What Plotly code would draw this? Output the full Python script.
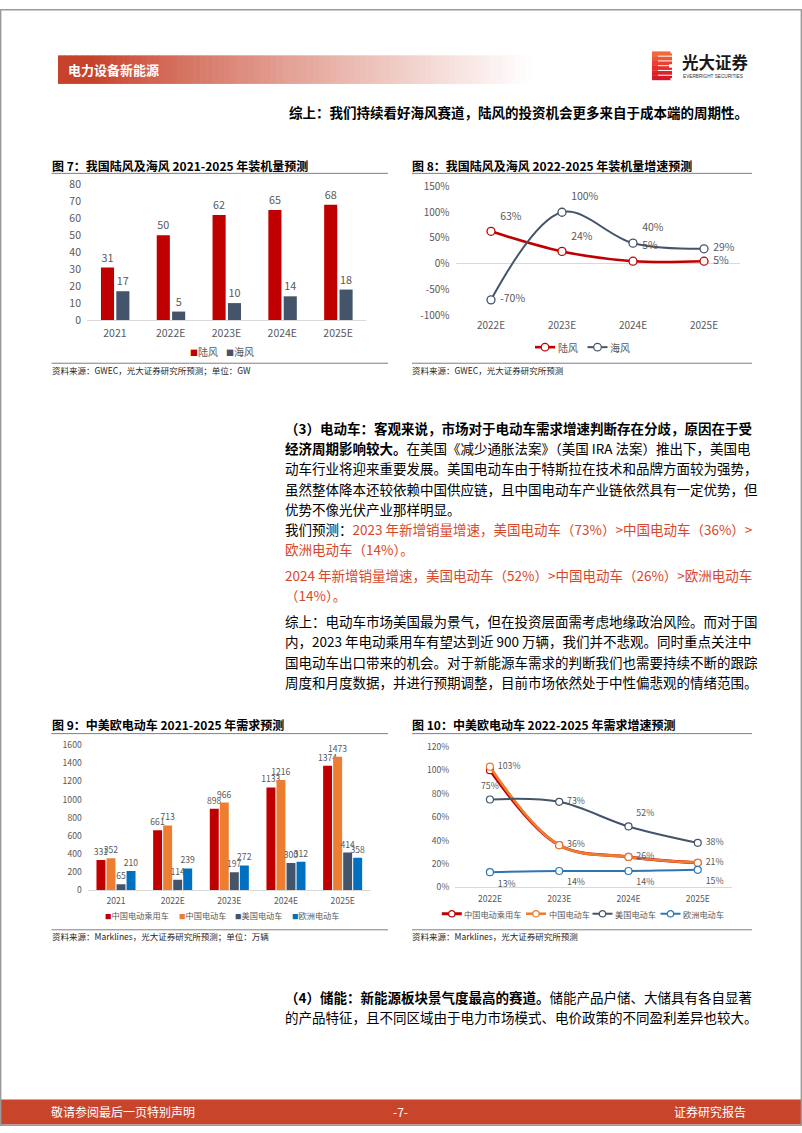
import plotly.graph_objects as go

W, H = 802, 1133
FONT = "Noto Sans CJK SC"
TICK = "#595959"
RED = "#C00000"
NAVY = "#44546A"
ORANGE = "#ED7D31"
BLUE = "#0070C0"
TEXT_RED = "#D9472B"
BRAND = "#C8452B"

# ---------------- data ----------------
wind_series = ["陆风", "海风"]
wind_years = ["2021", "2022E", "2023E", "2024E", "2025E"]
onshore_gw = [31, 50, 62, 65, 68]
offshore_gw = [17, 5, 10, 14, 18]

wind_growth_years = ["2022E", "2023E", "2024E", "2025E"]
onshore_growth = [63, 24, 5, 5]
offshore_growth = [-70, 100, 40, 29]
growth_ticks = [-100, -50, 0, 50, 100, 150]

ev_series = ["中国电动乘用车", "中国电动车", "美国电动车", "欧洲电动车"]
ev_years = ["2021", "2022E", "2023E", "2024E", "2025E"]
cn_passenger_ev = [331, 661, 898, 1133, 1374]
cn_ev = [352, 713, 966, 1216, 1473]
us_ev = [65, 114, 197, 300, 414]
eu_ev = [210, 239, 272, 312, 358]

ev_growth_years = ["2022E", "2023E", "2024E", "2025E"]
cn_passenger_growth = [100, 36, 26, 21]
cn_ev_growth = [103, 36, 26, 21]
us_ev_growth = [75, 73, 52, 38]
eu_ev_growth = [13, 14, 14, 15]


def X(p):
    return p / W


def Y(p):
    return 1 - p / H


fig = go.Figure()

# ---------- Chart 7: grouped bars ----------
for vals, name, color, off in [(onshore_gw, wind_series[0], RED, -0.25),
                               (offshore_gw, wind_series[1], NAVY, 0.025)]:
    fig.add_trace(go.Bar(
        x=wind_years, y=vals, name=name, width=0.235, offset=off,
        marker=dict(color=color, line=dict(width=0)),
        text=[str(v) for v in vals], textposition="outside", constraintext="none",
        textfont=dict(family=FONT, size=10.8, color=TICK), cliponaxis=False,
        showlegend=False, hoverinfo="skip", xaxis="x", yaxis="y"))

# ---------- Chart 8: smoothed lines ----------
line_specs8 = [
    (onshore_growth, wind_series[0], RED, 2.6,
     ["top right", "top right", "top right", "middle right"]),
    (offshore_growth, wind_series[1], NAVY, 2.0,
     ["middle right", "top right", "top right", "middle right"]),
]
for vals, name, color, lw, pos in line_specs8:
    fig.add_trace(go.Scatter(
        x=wind_growth_years, y=vals, name=name, mode="lines+markers",
        line=dict(color=color, width=lw, shape="spline", smoothing=1),
        marker=dict(symbol="circle", size=8, color="white", line=dict(color=color, width=1.3)),
        cliponaxis=False, hoverinfo="skip", showlegend=False, xaxis="x2", yaxis="y2"))
for vals, name, color, lw, pos in line_specs8:
    fig.add_trace(go.Scatter(
        x=wind_growth_years, y=vals, mode="markers+text", text=[f"{v}%" for v in vals],
        marker=dict(size=13, color="rgba(0,0,0,0)"),
        textposition=pos, textfont=dict(family=FONT, size=10.5, color=TICK),
        cliponaxis=False, showlegend=False, hoverinfo="skip", xaxis="x2", yaxis="y2"))

# ---------- Chart 9: grouped bars ----------
ev_bar_data = [cn_passenger_ev, cn_ev, us_ev, eu_ev]
ev_colors = [RED, ORANGE, NAVY, BLUE]
for i, (vals, name, color) in enumerate(zip(ev_bar_data, ev_series, ev_colors)):
    fig.add_trace(go.Bar(
        x=ev_years, y=vals, name=name, width=0.158, offset=-0.345 + i * 0.177,
        marker=dict(color=color, line=dict(width=0)),
        text=[str(v) for v in vals], textposition="outside", constraintext="none",
        textfont=dict(family=FONT, size=8.6, color=TICK), cliponaxis=False,
        showlegend=False, hoverinfo="skip", xaxis="x3", yaxis="y3"))

# ---------- Chart 10: smoothed lines ----------
ev_growth_data = [cn_passenger_growth, cn_ev_growth, us_ev_growth, eu_ev_growth]
ev_line_colors = [RED, ORANGE, NAVY, "#2E75B6"]
ev_line_widths = [3.0, 2.6, 2.0, 2.0]
ev_label_pos = [None,
                ["middle right"] * 4,
                ["top center", "middle right", "top right", "middle right"],
                ["bottom right"] * 4]
for vals, name, color, lw in zip(ev_growth_data, ev_series, ev_line_colors, ev_line_widths):
    fig.add_trace(go.Scatter(
        x=ev_growth_years, y=vals, name=name, mode="lines+markers",
        line=dict(color=color, width=lw, shape="spline", smoothing=1),
        marker=dict(symbol="circle", size=7, color="white", line=dict(color=color, width=1.2)),
        cliponaxis=False, hoverinfo="skip", showlegend=False, xaxis="x4", yaxis="y4"))
for vals, pos in zip(ev_growth_data, ev_label_pos):
    if pos is None:
        continue
    fig.add_trace(go.Scatter(
        x=ev_growth_years, y=vals, mode="markers+text", text=[f"{v}%" for v in vals],
        marker=dict(size=11, color="rgba(0,0,0,0)"),
        textposition=pos, textfont=dict(family=FONT, size=8.8, color=TICK),
        cliponaxis=False, showlegend=False, hoverinfo="skip", xaxis="x4", yaxis="y4"))


# ---------- axes ----------
def cat_axis(px_range, anchor, n, size, line=False):
    return dict(domain=[X(px_range[0]), X(px_range[1])], anchor=anchor, type="category",
                range=[-0.5, n - 0.5], showgrid=False, zeroline=False, ticks="",
                tickfont=dict(family=FONT, size=size, color=TICK),
                showline=line, linecolor="#D9D9D9", linewidth=1,
                ticklabelstandoff=3, fixedrange=True)


def val_axis(px_top, px_bottom, anchor, rng, dtick, size, suffix="", zeroline=False,
             tickvals=None, ticktext=None):
    d = dict(domain=[Y(px_bottom), Y(px_top)], anchor=anchor, range=rng, dtick=dtick,
             showgrid=False, ticks="", showline=False, ticksuffix=suffix,
             zeroline=zeroline, zerolinecolor="#D9D9D9", zerolinewidth=1,
             tickfont=dict(family=FONT, size=size, color=TICK),
             ticklabelstandoff=5, fixedrange=True)
    if tickvals is not None:
        d.update(tickmode="array", tickvals=tickvals, ticktext=ticktext)
    return d


# ---------- decorations ----------
shapes = []
annotations = []


def rect(x0, y0, x1, y1, fill, line_color=None, lw=0, layer="below"):
    shapes.append(dict(type="rect", xref="paper", yref="paper", x0=X(x0), x1=X(x1),
                       y0=Y(y1), y1=Y(y0), fillcolor=fill, layer=layer,
                       line=dict(width=lw, color=line_color or fill)))


def hline(x0, x1, y, color="#7F7F7F", width=1):
    shapes.append(dict(type="line", xref="paper", yref="paper", x0=X(x0), x1=X(x1),
                       y0=Y(y), y1=Y(y), line=dict(color=color, width=width), layer="below"))


def note(text, x, y, size, color="#000000", anchor="left", family=FONT):
    annotations.append(dict(text=text, x=X(x), y=Y(y), xref="paper", yref="paper",
                            xanchor=anchor, yanchor="middle", showarrow=False, borderpad=0,
                            font=dict(family=family, size=size, color=color)))


def line_legend_item(name, color, lw, x, y, size, r=3.5, seg=20):
    hline(x, x + seg, y, color, lw)
    cx = x + seg / 2
    shapes.append(dict(type="circle", xref="paper", yref="paper",
                       x0=X(cx - r), x1=X(cx + r), y0=Y(y + r), y1=Y(y - r),
                       fillcolor="white", line=dict(color=color, width=1.2), layer="below"))
    note(name, x + seg + 1.5, y, size, TICK)


# header gradient band
n_strips = 80
gx0, gx1 = 58, 532
c0 = (199, 66, 42)
for i in range(n_strips):
    xa = gx0 + (gx1 - gx0) * i / n_strips
    xb = gx0 + (gx1 - gx0) * (i + 1) / n_strips + 0.6
    xm = (xa + xb) / 2
    f = max(0.0, min(1.0, (xm - 95) / (gx1 - 95))) ** 0.85
    col = tuple(round(c * (1 - f) + 255 * f) for c in c0)
    rect(xa, 47, xb, 76, "rgb(%d,%d,%d)" % col)
note("<b>电力设备新能源</b>", 67, 61.5, 13, "white")

# logo icon
logo_cols = ["#F26A3A", "#EE5636", "#E94232", "#E3302E", "#DC222B", "#D41A28"]
ly0, ly1 = 43, 72
step = (ly1 - ly0) / len(logo_cols)
for i, c in enumerate(logo_cols):
    rect(652, ly0 + i * step, 672, ly0 + (i + 1) * step + 0.2, c)
for i in range(1, len(logo_cols)):
    rect(658, ly0 + i * step - 0.5, 672.5, ly0 + i * step + 0.5, "white")
rect(669, 56, 672.5, 59.5, "white")
rect(670.5, 42.5, 672.5, 45, "white")
rect(670.5, 70, 672.5, 72.5, "white")
note("<b>光大证券</b>", 680.5, 54, 16.5, "#1A1A1A")
note("EVERBRIGHT SECURITIES", 681.5, 68.5, 4.7, "#333333", family="Liberation Sans")

# intro line
note("<b>综上：我们持续看好海风赛道，陆风的投资机会更多来自于成本端的周期性。</b>", 288, 104, 13.5)

# chart titles, rules and sources
note("<b>图 7：我国陆风及海风 2021-2025 年装机量预测</b>", 50.5, 158.3, 12)
note("<b>图 8：我国陆风及海风 2022-2025 年装机量增速预测</b>", 411, 158.3, 12)
note("<b>图 9：中美欧电动车 2021-2025 年需求预测</b>", 50.5, 726, 12)
note("<b>图 10：中美欧电动车 2022-2025 年需求增速预测</b>", 411, 726, 12)
for (xa, xb) in [(51.5, 388), (412, 752)]:
    hline(xa, xb, 166.7)
    hline(xa, xb, 359.3)
    hline(xa, xb, 735)
    hline(xa, xb, 934)
note("资料来源：GWEC，光大证券研究所预测；单位：GW", 50.5, 366, 8.5, "#262626")
note("资料来源：GWEC，光大证券研究所预测", 411, 366, 8.5, "#262626")
note("资料来源：Marklines，光大证券研究所预测；单位：万辆", 50.5, 940.5, 8.5, "#262626")
note("资料来源：Marklines，光大证券研究所预测", 411, 940.5, 8.5, "#262626")

# bar chart legends
for name, color, x in [(wind_series[0], RED, 189), (wind_series[1], NAVY, 224.5)]:
    note(f"<span style='color:{color};font-size:8px'>■</span>{name}", x, 347.7, 10, TICK)
for name, color, x in zip(ev_series, ev_colors, [104, 177.5, 233.5, 291]):
    note(f"<span style='color:{color};font-size:6.5px'>■</span>{name}", x, 919.3, 8.2, TICK)

# line chart legends
for name, color, lw, x in [(wind_series[0], RED, 2.6, 535), (wind_series[1], NAVY, 2.0, 587.5)]:
    line_legend_item(name, color, lw, x, 343, 10, r=3.8)
for name, color, lw, x in zip(ev_series, ev_line_colors, ev_line_widths, [441.8, 526, 592.5, 660.5]):
    line_legend_item(name, color, lw, x, 917.7, 8.2, r=3.2)

# body text
BX = 284
BS = 13.5
para3 = [
    "<b>（3）电动车：客观来说，市场对于电动车需求增速判断存在分歧，原因在于受</b>",
    "<b>经济周期影响较大。</b>在美国《减少通胀法案》（美国 IRA 法案）推出下，美国电",
    "动车行业将迎来重要发展。美国电动车由于特斯拉在技术和品牌方面较为强势，",
    "虽然整体降本还较依赖中国供应链，且中国电动车产业链依然具有一定优势，但",
    "优势不像光伏产业那样明显。",
]
for i, s in enumerate(para3):
    note(s, BX, 425 + i * 20.5, BS)
red = f"<span style='color:{TEXT_RED}'>%s</span>"
para_pred = [
    "我们预测：" + red % "2023 年新增销量增速，美国电动车（73%）>中国电动车（36%）>",
    red % "欧洲电动车（14%）。",
]
for i, s in enumerate(para_pred):
    note(s, BX, 527 + i * 20.5, BS)
para_pred2 = [
    red % "2024 年新增销量增速，美国电动车（52%）>中国电动车（26%）>欧洲电动车",
    red % "（14%）。",
]
for i, s in enumerate(para_pred2):
    note(s, BX, 574 + i * 20.5, BS)
para_sum = [
    "综上：电动车市场美国最为景气，但在投资层面需考虑地缘政治风险。而对于国",
    "内，2023 年电动乘用车有望达到近 900 万辆，我们并不悲观。同时重点关注中",
    "国电动车出口带来的机会。对于新能源车需求的判断我们也需要持续不断的跟踪",
    "周度和月度数据，并进行预期调整，目前市场依然处于中性偏悲观的情绪范围。",
]
for i, s in enumerate(para_sum):
    note(s, BX, 620.5 + i * 20.7, BS)
para4 = [
    "<b>（4）储能：新能源板块景气度最高的赛道。</b>储能产品户储、大储具有各自显著",
    "的产品特征，且不同区域由于电力市场模式、电价政策的不同盈利差异也较大。",
]
for i, s in enumerate(para4):
    note(s, BX, 1002 + i * 20.5, BS)

# footer
rect(0, 1106, W, 1131.5, BRAND)
note("敬请参阅最后一页特别声明", 50, 1118.5, 12, "white")
note("-7-", 400, 1118.5, 12, "white", anchor="center")
note("证券研究报告", 747, 1118.5, 12, "white", anchor="right")

# page border
shapes.append(dict(type="rect", xref="paper", yref="paper", x0=0.0008, x1=0.9992,
                   y0=0.0006, y1=0.9994, line=dict(color="#9A9A9A", width=1.5),
                   fillcolor="rgba(0,0,0,0)", layer="above"))

fig.update_layout(
    width=W, height=H, margin=dict(l=0, r=0, t=0, b=0),
    paper_bgcolor="white", plot_bgcolor="rgba(0,0,0,0)",
    barmode="overlay", font=dict(family=FONT, color=TICK), showlegend=False,
    xaxis=cat_axis((87, 366), "y", 5, 10.5, line=True),
    yaxis=val_axis(178, 315.5, "x", [0, 80], 10, 10.5),
    xaxis2=cat_axis((455.5, 739.5), "y2", 4, 10),
    yaxis2=val_axis(180, 310.7, "x2", [-100, 150], 50, 10, zeroline=True,
                    tickvals=growth_ticks, ticktext=[f"{v}%" for v in growth_ticks]),
    xaxis3=cat_axis((87.7, 371), "y3", 5, 8.6, line=True),
    yaxis3=val_axis(746.7, 893.7, "x3", [0, 1600], 200, 8.6),
    xaxis4=cat_axis((455.3, 732.4), "y4", 4, 8.6, line=True),
    yaxis4=val_axis(748.3, 891, "x4", [0, 120], 20, 8.6, suffix="%"),
    shapes=shapes, annotations=annotations,
)

fig.write_html("out.html", config={"displayModeBar": False})
